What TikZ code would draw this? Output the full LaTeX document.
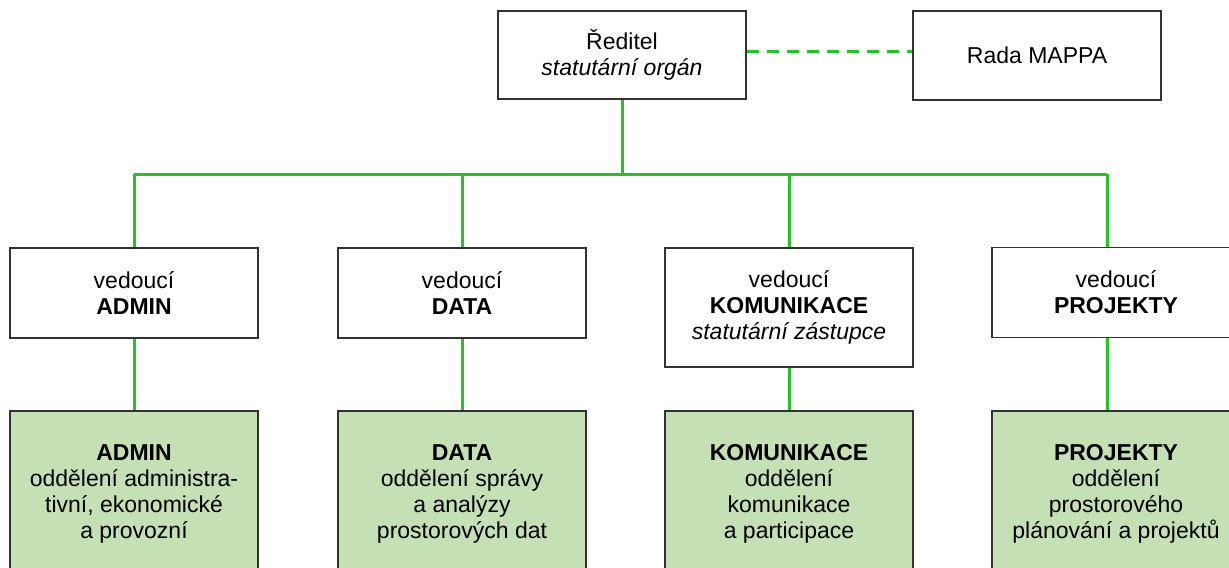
\documentclass[tikz,border=0pt]{standalone}
\usepackage{fontspec}
\setmainfont{Liberation Sans}
\usetikzlibrary{positioning}
\definecolor{linegreen}{RGB}{30,200,30}
\definecolor{deptfill}{RGB}{197,224,180}
\definecolor{boxline}{RGB}{50,50,50}
\tikzstyle{unit} = [rectangle, draw=boxline, line width=0.9pt, minimum width=124pt, minimum height=45pt, text centered, align=center, font=\fontsize{11.5}{13}\selectfont, inner sep=0pt]
\tikzstyle{dept} = [unit, fill=deptfill, minimum height=83pt]
\tikzstyle{link} = [draw=linegreen, line width=1.5pt]

\begin{document}
\begin{tikzpicture}[x=0.5pt, y=-0.5pt]
 \useasboundingbox[clip] (0,0) rectangle (1229,567);

 \node (red) [unit, minimum height=44pt] at (622,55) {\v{R}editel\\\textit{statutární orgán}};
 \node (rada) [unit, minimum height=44.5pt] at (1037,55.5) {Rada MAPPA};

 \node (madmin) [unit] at (134,293) {vedoucí\\\textbf{ADMIN}};
 \node (mdata) [unit] at (462,293) {vedoucí\\\textbf{DATA}};
 \node (mkom) [unit, minimum height=59.5pt] at (789,307.5) {vedoucí\\\textbf{KOMUNIKACE}\\\textit{statutární zástupce}};
 \node (mproj) [unit] at (1116,292.5) {vedoucí\\\textbf{PROJEKTY}};

 \node (dadmin) [dept] at (134,494) {\textbf{ADMIN}\\oddělení administra-\\tivní, ekonomické\\a provozní};
 \node (ddata) [dept] at (462,494) {\textbf{DATA}\\oddělení správy\\a analýzy\\prostorových dat};
 \node (dkom) [dept] at (789,494) {\textbf{KOMUNIKACE}\\oddělení\\komunikace\\a participace};
 \node (dproj) [dept] at (1116,494) {\textbf{PROJEKTY}\\oddělení\\prostorového\\plánování a projektů};

 \coordinate (bar) at (622,174);
 \coordinate (pj) at (1107,174);

 % top level
 \draw [link, dashed, dash pattern=on 6pt off 4pt] (red.east |- 0,52) -- (rada.west |- 0,52);
 \draw [link] (red) -- (bar);
 \draw [link] (madmin.north |- bar) -- (pj);

 % managers
 \draw [link] (madmin.north |- bar) -- (madmin);
 \draw [link] (mdata.north |- bar) -- (mdata);
 \draw [link] (mkom.north |- bar) -- (mkom);
 \draw [link] (pj) -- (pj |- mproj.north);

 % departments
 \draw [link] (madmin) -- (dadmin);
 \draw [link] (mdata) -- (ddata);
 \draw [link] (mkom) -- (dkom);
 \draw [link] (pj |- mproj.south) -- (pj |- dproj.north);
\end{tikzpicture}
\end{document}
